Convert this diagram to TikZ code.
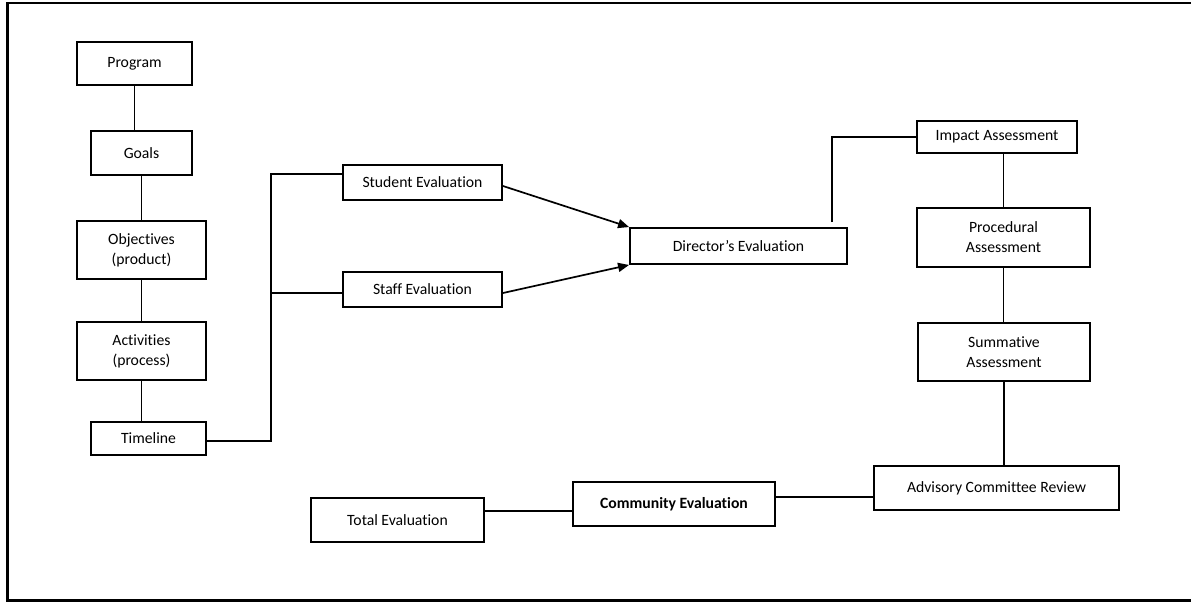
\documentclass[tikz,border=0pt]{standalone}
\usepackage{fontspec}
\setmainfont{Carlito}[Ligatures=CommonOff]
\usetikzlibrary{arrows.meta}
\begin{document}
\begin{tikzpicture}[x=1pt,y=-1pt,
  box/.style={draw=black, line width=1.9pt, rectangle, inner sep=0pt, align=center,
    font=\fontsize{15.7}{20}\selectfont},
  link/.style={draw=black, line width=1.7pt},
  arr/.style={link, -{Triangle[length=11pt,width=9pt]}}]
\useasboundingbox (0,0) rectangle (1191,602);
\fill[white] (0,0) rectangle (1191,602);
\draw[line width=2.6pt] (1191,3) -- (7.5,3) -- (7.5,600.5) -- (1191,600.5);

% left column
\node[box, minimum width=115pt, minimum height=43pt] (program) at (134.5,63.5) {Program};
\node[box, minimum width=101pt, minimum height=44pt] (goals) at (141.5,153) {Goals};
\node[box, minimum width=129pt, minimum height=58pt] (objectives) at (141.5,250) {Objectives\\(product)};
\node[box, minimum width=129pt, minimum height=58pt] (activities) at (141.5,351) {Activities\\(process)};
\node[box, minimum width=115pt, minimum height=33pt] (timeline) at (148.5,438.5) {Timeline};

% middle
\node[box, minimum width=159pt, minimum height=35pt] (student) at (422.5,182.5) {Student Evaluation};
\node[box, minimum width=159pt, minimum height=35pt] (staff) at (422.5,289.5) {Staff Evaluation};
\node[box, minimum width=217pt, minimum height=36pt] (director) at (738.5,246) {Director's Evaluation};

% right column
\node[box, minimum width=160pt, minimum height=32pt] (impact) at (997,137) {Impact Assessment};
\node[box, minimum width=173pt, minimum height=59pt] (procedural) at (1003.5,237.5) {Procedural\\Assessment};
\node[box, minimum width=172pt, minimum height=58pt] (summative) at (1004,352) {Summative\\Assessment};
\node[box, minimum width=245pt, minimum height=44pt] (advisory) at (996.5,488) {Advisory Committee Review};

% bottom row
\node[box, minimum width=202pt, minimum height=44pt, font=\fontsize{15.7}{20}\selectfont\bfseries] (community) at (674,504) {Community Evaluation};
\node[box, minimum width=173pt, minimum height=44pt] (total) at (397.5,520) {Total Evaluation};

% coordinates
\coordinate (busTop) at (271,174);
\coordinate (busStaff) at (271,293);
\coordinate (dgap) at (832,222);

% left column links
\draw[link] (program.south) -- (program.south |- goals.north);
\draw[link] (goals.south) -- (goals.south |- objectives.north);
\draw[link] (objectives.south) -- (objectives.south |- activities.north);
\draw[link] (activities.south) -- (activities.south |- timeline.north);

% bus
\draw[link] ([yshift=-2.5pt]timeline.east) -| (busTop) -- (busTop -| student.west);
\draw[link] (busStaff) -- (busStaff -| staff.west);

% arrows
\draw[arr] ([yshift=-3.5pt]student.east) -- (director.north west);
\draw[arr] ([yshift=-3.5pt]staff.east) -- (director.south west);

% director to impact
\draw[link] (dgap) |- (impact.west);

% right column
\draw[link] (procedural.north) -- (procedural.north |- impact.south);
\draw[link] (procedural.south) -- (procedural.south |- summative.north);
\draw[link] (summative.south) -- (summative.south |- advisory.north);

% bottom row
\draw[link] ([yshift=7pt]community.east) -- ([yshift=7pt]community.east -| advisory.west);
\draw[link] ([yshift=9pt]total.east) -- ([yshift=9pt]total.east -| community.west);
\end{tikzpicture}
\end{document}
